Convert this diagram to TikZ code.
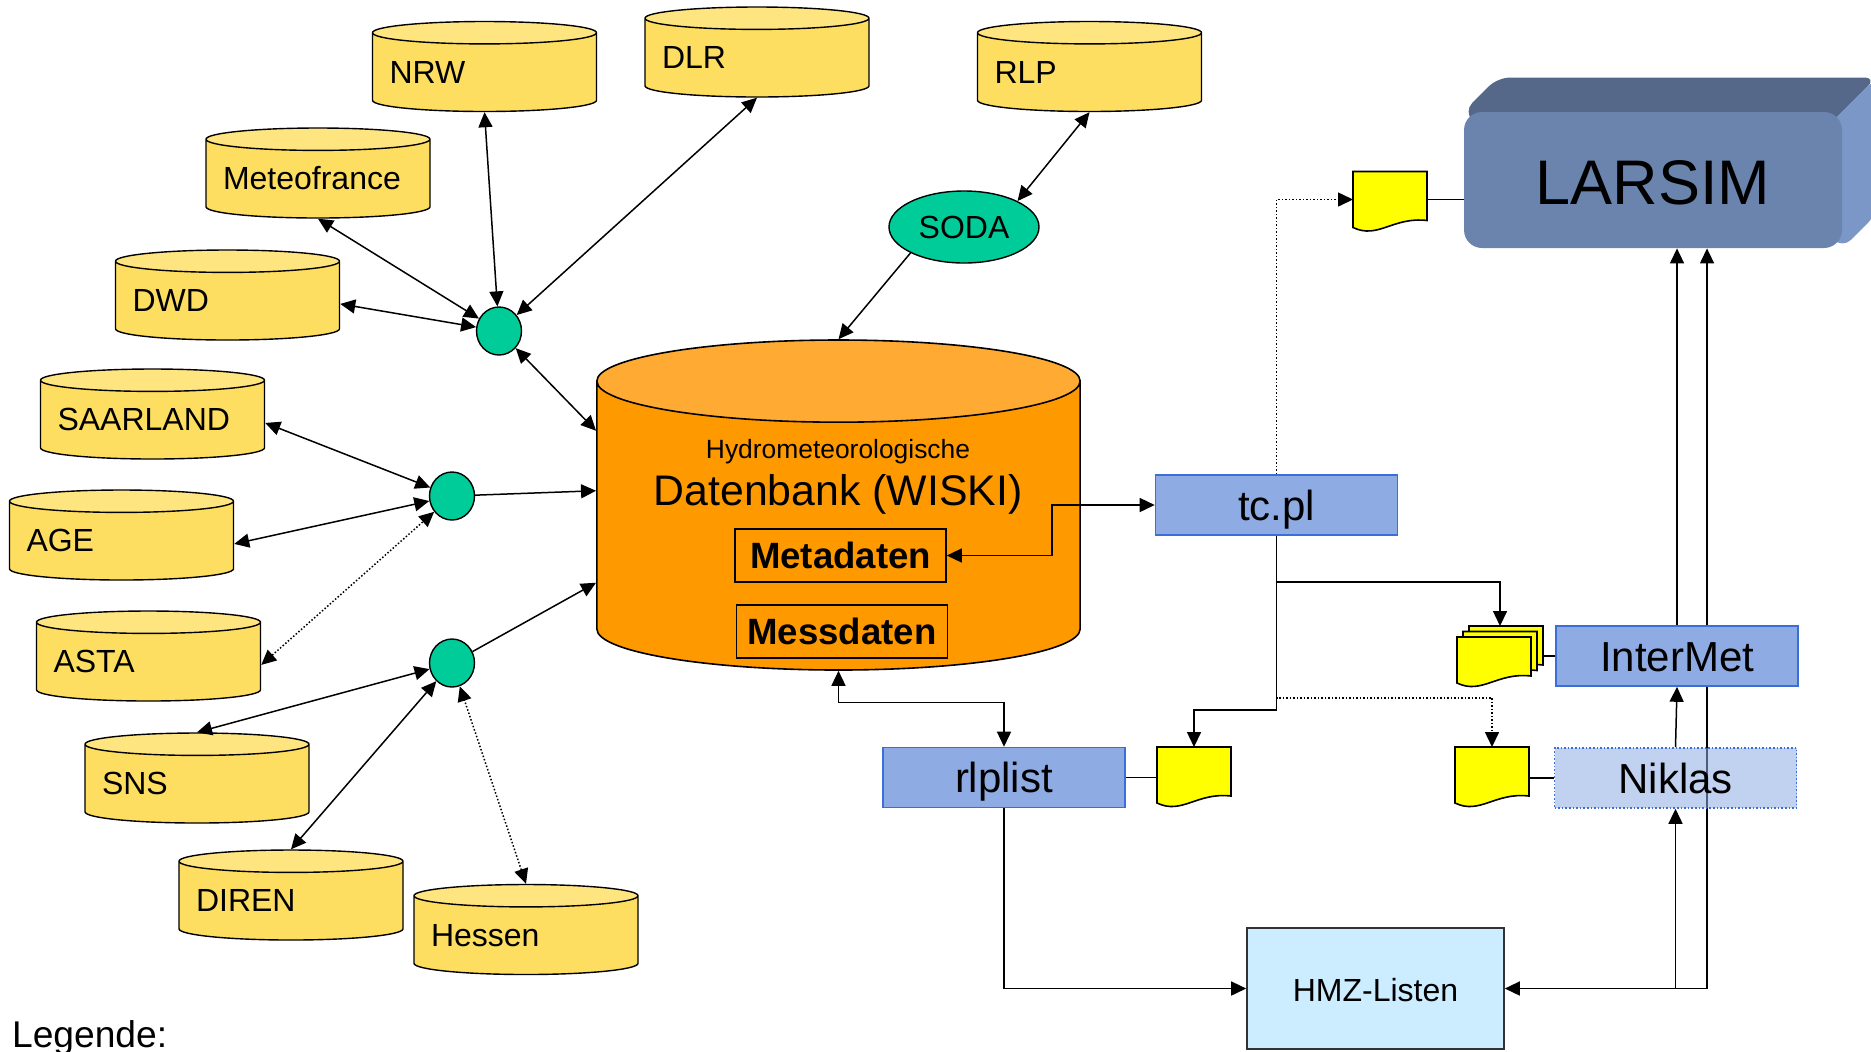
\documentclass[tikz,border=0pt]{standalone}
\usepackage{fontspec}
\setmainfont{Liberation Sans}
\usetikzlibrary{shapes.geometric,arrows.meta,positioning,backgrounds}

\definecolor{dbbody}{HTML}{FDDE60}
\definecolor{dbtop}{HTML}{FFE57F}
\definecolor{wiskibody}{HTML}{FF9900}
\definecolor{wiskitop}{HTML}{FFAA33}
\definecolor{hubgreen}{HTML}{00CC99}
\definecolor{boxblue}{HTML}{8EABE3}
\definecolor{boxline}{HTML}{3B6ED6}
\definecolor{hmzfill}{HTML}{CCECFF}
\definecolor{larsfront}{HTML}{6A84AE}
\definecolor{larstop}{HTML}{556889}
\definecolor{larsside}{HTML}{7B97C8}
\definecolor{pageyellow}{HTML}{FFFF00}

\tikzset{
  db/.style={cylinder, shape border rotate=90, aspect=0.1, draw, line width=0.7pt,
    cylinder uses custom fill, cylinder body fill=dbbody, cylinder end fill=dbtop,
    minimum width=112pt, minimum height=45pt, inner xsep=8.5pt, inner ysep=0pt,
    text width=95pt, align=left, text height=8pt, text depth=0pt,
    anchor=shape center, font=\fontsize{16}{19}\selectfont},
  wiski/.style={cylinder, shape border rotate=90, aspect=0.17, draw, line width=0.8pt,
    cylinder uses custom fill, cylinder body fill=wiskibody, cylinder end fill=wiskitop,
    minimum width=241.5pt, minimum height=165pt, text width=235pt,
    anchor=shape center},
  store/.style={draw, line width=0.8pt, minimum width=105.5pt, minimum height=26.5pt,
    inner sep=0pt, text height=13pt, text depth=0pt,
    font=\bfseries\fontsize{18.3}{22}\selectfont},
  hub/.style={ellipse, draw, line width=0.7pt, fill=hubgreen,
    minimum width=22.5pt, minimum height=24pt, inner sep=0pt},
  soda/.style={ellipse, draw, line width=0.7pt, fill=hubgreen,
    minimum width=75pt, minimum height=36pt, inner sep=0pt,
    text height=11pt, text depth=0pt, font=\fontsize{16}{19}\selectfont},
  prog/.style={rectangle, draw=boxline, line width=0.8pt, fill=boxblue,
    minimum width=121pt, minimum height=30pt, inner sep=0pt,
    text height=15pt, text depth=0pt, font=\fontsize{21}{25}\selectfont},
  lists/.style={rectangle, draw=black!80, line width=0.8pt, fill=hmzfill,
    minimum width=128.5pt, minimum height=60.5pt, inner sep=0pt,
    text height=12.5pt, text depth=0pt, font=\fontsize{16}{19}\selectfont},
  model/.style={rectangle, rounded corners=9pt, fill=larsfront,
    minimum width=189pt, minimum height=68pt, inner sep=0pt,
    text height=24pt, text depth=0pt, font=\fontsize{31.5}{36}\selectfont},
  page/.style={minimum width=37pt, minimum height=28pt, inner sep=0pt, outer sep=0pt},
  stackpage/.style={minimum width=37pt, minimum height=23pt, inner sep=0pt, outer sep=0pt},
  pageline/.style={draw, line width=0.8pt, fill=pageyellow},
  line/.style={line width=0.75pt},
  arrow/.style={line width=0.75pt, -{Triangle[length=7.5pt,width=7pt]}},
  biarrow/.style={line width=0.75pt, {Triangle[length=7.5pt,width=7pt]}-{Triangle[length=7.5pt,width=7pt]}},
}

% page symbol with wavy lower edge
\newcommand{\docpage}[3][page]{%
  \node[#1] (#2) at (#3) {};
  \filldraw[pageline] (#2.north west) -- (#2.north east) -- ([yshift=3.5pt]#2.south east)
    .. controls ([shift={(20pt,5.5pt)}]#2.south west) and ([shift={(12.5pt,-6pt)}]#2.south west) .. (#2.south west) -- cycle;
}

\begin{document}
\begin{tikzpicture}[x=0.5pt,y=-0.5pt]
\useasboundingbox (0,0) rectangle (1871,1051);

% data sources
\node[db] (nrw) at (484.5,66.5) {NRW};
\node[db] (dlr) at (757,52) {DLR};
\node[db] (rlp) at (1089.5,66.5) {RLP};
\node[db] (meteo) at (318,173) {Meteofrance};
\node[db] (dwd) at (227.5,295) {DWD};
\node[db] (saar) at (152.5,414) {SAARLAND};
\node[db] (age) at (121.5,535) {AGE};
\node[db] (asta) at (148.5,656) {ASTA};
\node[db] (sns) at (197,778) {SNS};
\node[db] (diren) at (291,895) {DIREN};
\node[db] (hessen) at (526,929.5) {Hessen};

% central database
\node[wiski] (wiski) at (838.5,505) {};
\node[anchor=base, font=\fontsize{13.2}{15}\selectfont] (hydro) at (838,458) {Hydrometeorologische};
\node[anchor=base, font=\fontsize{21.4}{25}\selectfont] (dbname) at (838,505) {Datenbank (WISKI)};
\node[store] (meta) at (840.5,555.5) {Metadaten};
\node[store] (mess) at (842,631.5) {Messdaten};

% collectors
\node[hub] (hub1) at (499,331) {};
\node[hub] (hub2) at (452,496) {};
\node[hub] (hub3) at (452,663) {};
\node[soda] (soda) at (964,227) {SODA};

% programs
\node[prog] (tcpl) at (1276.5,505) {tc.pl};
\node[prog] (intermet) at (1677,656) {InterMet};
\node[prog, densely dotted, fill opacity=0.55, text opacity=1] (niklas) at (1675.5,778) {Niklas};
\node[prog] (rlplist) at (1004,777.5) {rlplist};
\node[lists] (hmz) at (1375.5,988.5) {HMZ-Listen};

% model
\node[model] (larsim) at (1653,180) {LARSIM};
\begin{scope}[on background layer]
  \fill[larstop, rounded corners=6pt] (larsim.north west) -- ([shift={(17pt,17pt)}]larsim.north west)
    -- ([shift={(17pt,17pt)}]larsim.north east) -- ([shift={(-10pt,-10pt)}]larsim.north east)
    -- ([shift={(10pt,-10pt)}]larsim.north west) -- cycle;
  \fill[larsside, rounded corners=6pt] ([shift={(-10pt,-10pt)}]larsim.north east)
    -- ([shift={(17pt,17pt)}]larsim.north east) -- ([shift={(17pt,17pt)}]larsim.south east)
    -- (larsim.south east) -- ([shift={(-10pt,10pt)}]larsim.south east) -- cycle;
\end{scope}

% files
\docpage{ldoc}{1390,199.5}
\docpage{rdoc}{1194,775}
\docpage{ndoc}{1492,775}
\docpage[stackpage]{stackback}{1506,649}
\docpage[stackpage]{stackmid}{1500,654.5}
\docpage[stackpage]{stackfront}{1494,660}

\node[anchor=base west, font=\fontsize{18.6}{22}\selectfont] (legend) at (5,1047) {Legende:};

% links to the collectors
\draw[biarrow] (nrw.south) -- (hub1);
\draw[biarrow] (dlr.south) -- (hub1);
\draw[biarrow] (meteo.south) -- (hub1);
\draw[biarrow] (dwd.east) -- (hub1);
\draw[biarrow] (hub1) -- ([yshift=50pt]wiski.west);
\draw[biarrow] (saar.east) -- (hub2);
\draw[biarrow] (age.east) -- (hub2);
\draw[biarrow, densely dotted] (asta.east) -- (hub2);
\draw[arrow] (hub2) -- ([yshift=20pt]wiski.west);
\draw[biarrow] (sns.north) -- (hub3);
\draw[biarrow] (diren.north) -- (hub3);
\draw[biarrow, densely dotted] (hessen.north) -- (hub3);
\draw[arrow] (hub3) -- ([yshift=-26pt]wiski.west);
\draw[biarrow] (rlp.south) -- (soda.north east);
\draw[arrow] (soda.south west) -- (wiski.north);

% processing chain
\draw[biarrow] (meta.east) -- ++(105,0) |- (tcpl.west);
\draw[arrow, densely dotted] (tcpl.north) |- (ldoc.west);
\draw[line] (ldoc.east) -- (ldoc.east -| larsim.west);
\draw[arrow] (tcpl.south) -- ++(0,46) -| ([xshift=-3pt]stackback.north);
\draw[arrow] (tcpl.south) -- ++(0,174) -| (rdoc.north);
\draw[arrow, densely dotted] (tcpl.south) -- ++(0,162) -| (ndoc.north);
\draw[line] (intermet.west) -- (intermet.west -| stackback.east);
\draw[line] (rlplist.east) -- (rlplist.east -| rdoc.west);
\draw[line] (niklas.west) -- (niklas.west -| ndoc.east);
\draw[biarrow] (rlplist.north) -- ++(0,-44) -| (wiski.south);
\draw[arrow] (rlplist.south) |- (hmz.west);
\draw[arrow] (hmz.east -| niklas.south) -- (niklas.south);
\draw[arrow] (niklas.north) -- (intermet.south);
\draw[arrow] (intermet.north) -- (intermet.north |- larsim.south);
\begin{scope}[on background layer]
  \draw[biarrow] (hmz.east) -| ([xshift=15pt]intermet.north |- larsim.south);
\end{scope}
\end{tikzpicture}
\end{document}
